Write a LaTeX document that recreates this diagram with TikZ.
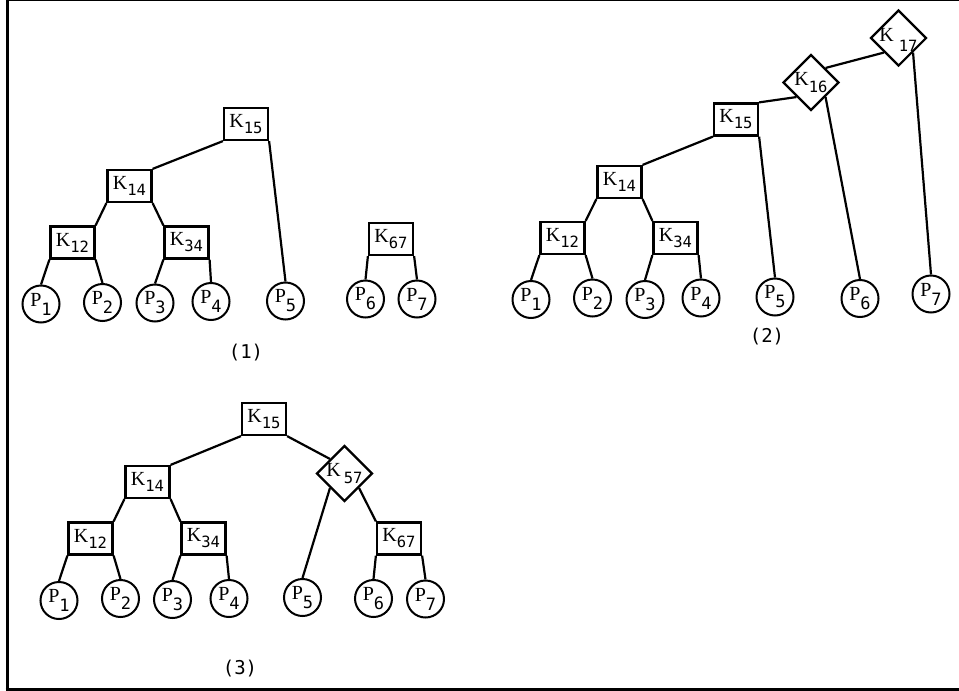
\documentclass[tikz,border=0pt]{standalone}
\usepackage{fontspec}
\usetikzlibrary{shapes.geometric}
\newfontfamily\letterfont{Liberation Serif}
\newfontfamily\digitfont{DejaVu Sans Mono}
% key label: letter with lowered index
\newcommand\Kl[2][6pt]{{\letterfont\fontsize{20}{20}\selectfont K}\raisebox{-#1}{\digitfont\fontsize{15.5}{15.5}\selectfont #2}}
% leaf label
\newcommand\Pl[1]{{\letterfont\fontsize{20}{20}\selectfont P}\raisebox{-9pt}{\digitfont\fontsize{17}{17}\selectfont #1}}
\tikzset{
  keybox/.style={draw, line width=2.2pt, minimum width=44pt, minimum height=32pt, inner sep=0pt},
  leaf/.style={circle, draw, line width=2pt, minimum size=37pt, inner sep=0pt},
  keydia/.style={diamond, draw, line width=2.2pt, minimum width=56pt, minimum height=56pt,
    inner sep=0pt, text height=6pt, text depth=0pt},
  edge/.style={line width=2.2pt},
  caption/.style={font=\digitfont\fontsize{19}{19}\selectfont, inner sep=0pt},
}
\begin{document}
\begin{tikzpicture}[x=1pt, y=-1pt]
\useasboundingbox (0,0) rectangle (959,691);
% frame
\draw[line width=3pt] (7,0) -- (7,689.5);
\draw[line width=2pt] (7,0) -- (959,0);
\draw[line width=3pt] (5.5,689.5) -- (959,689.5);

% ---- tree (1)
\node[keybox] (a15) at (246,124) {\Kl{15}};
\node[keybox] (a14) at (129.5,186) {\Kl{14}};
\node[keybox] (a12) at (72.5,242.5) {\Kl{12}};
\node[keybox] (a34) at (186.5,242.5) {\Kl{34}};
\node[keybox] (a67) at (391,239) {\Kl{67}};
\node[leaf] (a1) at (41,304) {\Pl{1}};
\node[leaf] (a2) at (102.5,302.5) {\Pl{2}};
\node[leaf] (a3) at (155,303) {\Pl{3}};
\node[leaf] (a4) at (211,301.5) {\Pl{4}};
\node[leaf] (a5) at (285.5,301) {\Pl{5}};
\node[leaf] (a6) at (365.5,299) {\Pl{6}};
\node[leaf] (a7) at (417,299) {\Pl{7}};
\node[caption] (cap1) at (246,353) {(1)};
\draw[edge] (a15.south west) -- (a14.north east);
\draw[edge] (a15.south east) -- (a5.north);
\draw[edge] (a14.south west) -- (a12.north east);
\draw[edge] (a14.south east) -- (a34.north west);
\draw[edge] (a12.south west) -- (a1.north);
\draw[edge] (a12.south east) -- (a2.north);
\draw[edge] (a34.south west) -- (a3.north);
\draw[edge] (a34.south east) -- (a4.north);
\draw[edge] (a67.south west) -- (a6.north);
\draw[edge] (a67.south east) -- (a7.north);

% ---- tree (2)
\node[keydia] (b17) at (898.5,38) {\makebox[0pt]{\Kl[10pt]{\hspace{5pt}17}}};
\node[keydia] (b16) at (811,82.5) {\makebox[0pt]{\Kl[7pt]{16}}};
\node[keybox] (b15) at (736,119.5) {\Kl{15}};
\node[keybox] (b14) at (619.5,182) {\Kl{14}};
\node[keybox] (b12) at (562.5,238) {\Kl{12}};
\node[keybox] (b34) at (675.5,238) {\Kl{34}};
\node[leaf] (b1) at (531,299.5) {\Pl{1}};
\node[leaf] (b2) at (592.5,298) {\Pl{2}};
\node[leaf] (b3) at (645,299.5) {\Pl{3}};
\node[leaf] (b4) at (701,298) {\Pl{4}};
\node[leaf] (b5) at (775,297) {\Pl{5}};
\node[leaf] (b6) at (860,298.5) {\Pl{6}};
\node[leaf] (b7) at (931,294) {\Pl{7}};
\node[caption] (cap2) at (767,337) {(2)};
\draw[edge] (b17.-135) -- (b16.45);
\draw[edge] (b17.-45) -- (b7.north);
\draw[edge] (b16.-135) -- (b15.north east);
\draw[edge] (b16.-45) -- (b6.north);
\draw[edge] (b15.south west) -- (b14.north east);
\draw[edge] (b15.south east) -- (b5.north);
\draw[edge] (b14.south west) -- (b12.north east);
\draw[edge] (b14.south east) -- (b34.north west);
\draw[edge] (b12.south west) -- (b1.north);
\draw[edge] (b12.south east) -- (b2.north);
\draw[edge] (b34.south west) -- (b3.north);
\draw[edge] (b34.south east) -- (b4.north);

% ---- tree (3)
\node[keybox] (c15) at (264,419) {\Kl{15}};
\node[keybox] (c14) at (147.5,482) {\Kl{14}};
\node[keybox] (c12) at (90.5,538.5) {\Kl{12}};
\node[keybox] (c34) at (203.5,538.5) {\Kl{34}};
\node[keydia] (c57) at (344.5,473.5) {\makebox[0pt]{\Kl[7pt]{\hspace{3pt}57}}};
\node[keybox] (c67) at (399,538.5) {\Kl{67}};
\node[leaf] (c1) at (59,600.5) {\Pl{1}};
\node[leaf] (c2) at (120.5,598.5) {\Pl{2}};
\node[leaf] (c3) at (172.5,599.5) {\Pl{3}};
\node[leaf] (c4) at (229,598.5) {\Pl{4}};
\node[leaf] (c5) at (302.5,597.5) {\Pl{5}};
\node[leaf] (c6) at (373.5,598.5) {\Pl{6}};
\node[leaf] (c7) at (425.5,599) {\Pl{7}};
\node[caption] (cap3) at (240,669) {(3)};
\draw[edge] (c15.south west) -- (c14.north east);
\draw[edge] (c15.south east) -- (c57.135);
\draw[edge] (c57.-135) -- (c5.north);
\draw[edge] (c57.-45) -- (c67.north west);
\draw[edge] (c14.south west) -- (c12.north east);
\draw[edge] (c14.south east) -- (c34.north west);
\draw[edge] (c12.south west) -- (c1.north);
\draw[edge] (c12.south east) -- (c2.north);
\draw[edge] (c34.south west) -- (c3.north);
\draw[edge] (c34.south east) -- (c4.north);
\draw[edge] (c67.south west) -- (c6.north);
\draw[edge] (c67.south east) -- (c7.north);
\end{tikzpicture}
\end{document}
